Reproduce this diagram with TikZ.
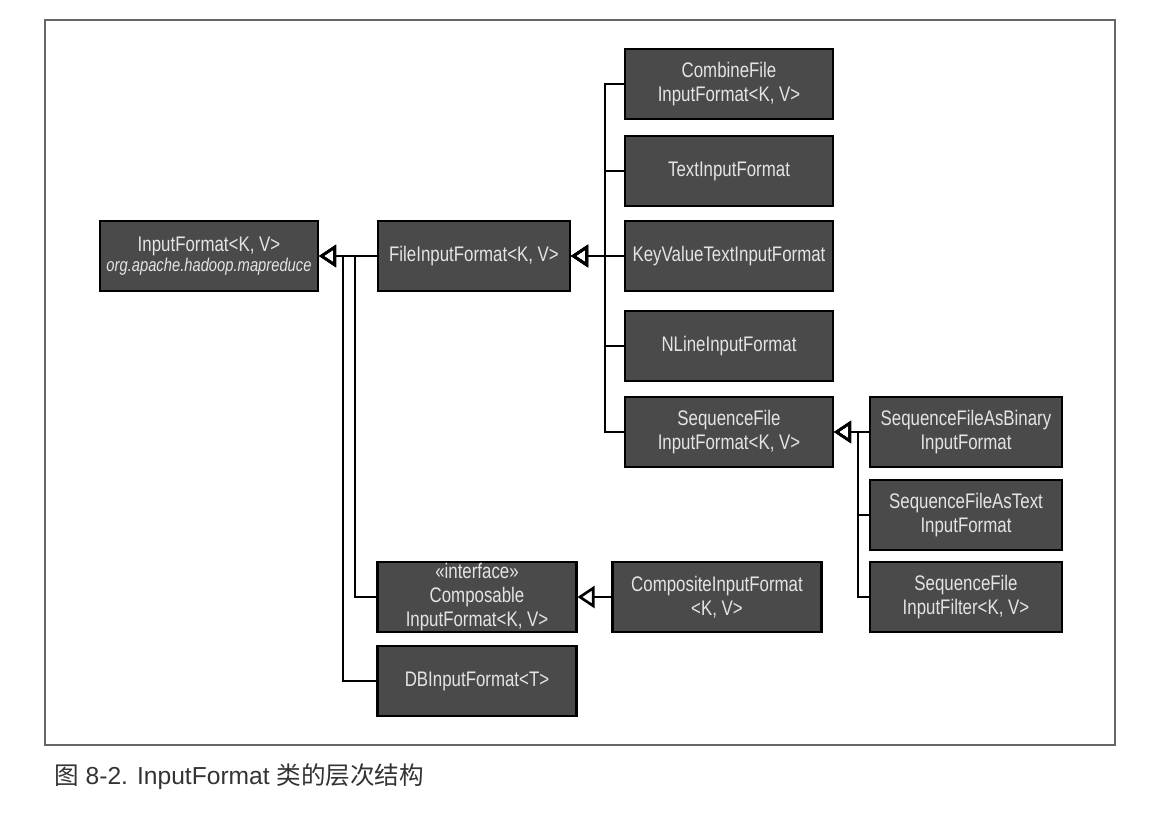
\documentclass[tikz,border=0pt]{standalone}
\usepackage{fontspec}
\setmainfont{Liberation Sans}
\newfontfamily\boxfont[FakeStretch=0.8]{Liberation Sans}
\newfontfamily\capfont{Noto Sans CJK SC}
\usetikzlibrary{arrows.meta}
\definecolor{boxgray}{HTML}{4A4A4A}
\definecolor{boxtext}{HTML}{E4E4E4}

\begin{document}
\begin{tikzpicture}[x=0.02cm, y=-0.02cm,
    cls/.style={draw=black, line width=1.2pt, fill=boxgray, text=boxtext, align=center,
        minimum height=1.4cm, inner sep=0pt, font=\boxfont\fontsize{12}{13.5}\selectfont},
    isa/.style={line width=1.5pt, -{Triangle[open, length=0.34cm, width=0.44cm]}}]

    % moldura
    \useasboundingbox (0,0) rectangle (1157,836);
    \draw[black!60, line width=0.6pt] (45,20) rectangle (1115,745);

    % classes
    \node[cls, minimum width=4.36cm] (inf) at (209,256)
        {InputFormat<K, V>\\[-2pt]{\fontsize{10.5}{11}\selectfont\itshape org.apache.hadoop.mapreduce}};
    \node[cls, minimum width=3.84cm] (fif) at (474,256) {FileInputFormat<K, V>};

    \node[cls, minimum width=4.16cm] (comb) at (729,84) {CombineFile\\InputFormat<K, V>};
    \node[cls, minimum width=4.16cm] (txt) at (729,171) {TextInputFormat};
    \node[cls, minimum width=4.16cm] (kv) at (729,256) {KeyValueTextInputFormat};
    \node[cls, minimum width=4.16cm] (nl) at (729,346) {NLineInputFormat};
    \node[cls, minimum width=4.16cm] (seq) at (729,432) {SequenceFile\\InputFormat<K, V>};

    \node[cls, minimum width=3.84cm] (bin) at (966,432) {SequenceFileAsBinary\\InputFormat};
    \node[cls, minimum width=3.84cm] (stxt) at (966,515) {SequenceFileAsText\\InputFormat};
    \node[cls, minimum width=3.84cm] (filt) at (966,597) {SequenceFile\\InputFilter<K, V>};

    \node[cls, minimum width=3.98cm] (comp) at (477,597) {«interface»\\Composable\\InputFormat<K, V>};
    \node[cls, minimum width=4.18cm] (cif) at (717,597) {CompositeInputFormat\\<K, V>};
    \node[cls, minimum width=3.98cm] (db) at (477,681) {DBInputFormat<T>};

    % pontos de juncao
    \coordinate (jc) at (355,256);
    \coordinate (jd) at (343,256);
    \coordinate (ja) at (605,256);
    \coordinate (jb) at (858,432);

    % heranca
    \draw[isa] (fif.west) -- (inf.east);
    \draw[isa] (comp.west) -| (jc) -- (inf.east);
    \draw[isa] (db.west) -| (jd) -- (inf.east);

    \draw[isa] (comb.west) -| (ja) -- (fif.east);
    \draw[isa] (txt.west) -| (ja) -- (fif.east);
    \draw[isa] (kv.west) -- (fif.east);
    \draw[isa] (nl.west) -| (ja) -- (fif.east);
    \draw[isa] (seq.west) -| (ja) -- (fif.east);

    \draw[isa] (bin.west) -- (seq.east);
    \draw[isa] (stxt.west) -| (jb) -- (seq.east);
    \draw[isa] (filt.west) -| (jb) -- (seq.east);

    \draw[isa] (cif.west) -- (comp.east);

    % legenda
    \node[anchor=base west, font=\fontsize{14}{16}\selectfont, text=black!80] (cap) at (48,784)
        {{\capfont 图} 8-2. InputFormat {\capfont 类的层次结构}};

\end{tikzpicture}
\end{document}
